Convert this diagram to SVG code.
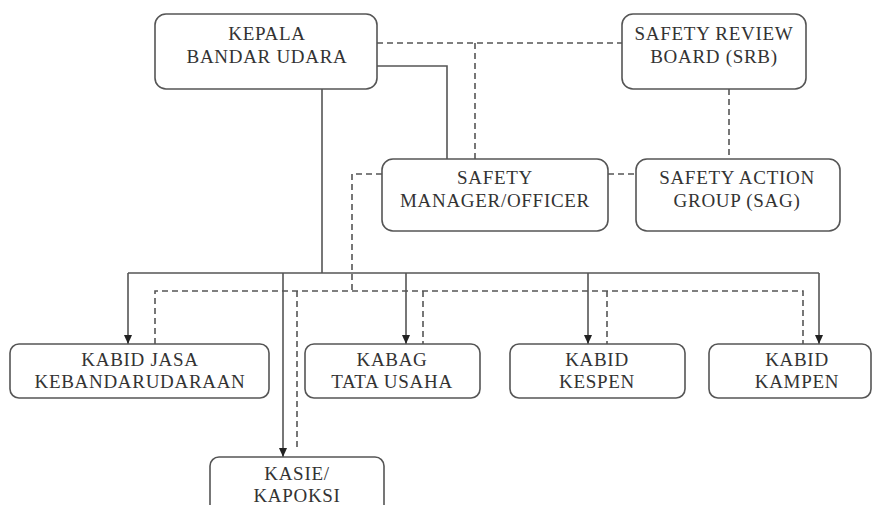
<svg xmlns="http://www.w3.org/2000/svg" width="877" height="505" viewBox="0 0 877 505">
<style>
.box{fill:#fff;stroke:#555;stroke-width:1.6}
.t{font-family:"Liberation Serif","Times New Roman",serif;font-size:19px;letter-spacing:0.7px;fill:#333;text-anchor:middle}
.s{fill:none;stroke:#555;stroke-width:1.6}
.d{fill:none;stroke:#555;stroke-width:1.6;stroke-dasharray:6,4}
</style>
<defs>
<marker id="ah" markerWidth="10" markerHeight="8" refX="9" refY="4" orient="auto" markerUnits="userSpaceOnUse">
<path d="M0,0 L9,4 L0,8 Z" fill="#222"/>
</marker>
</defs>
<g id="connectors">
<path class="s" d="M377,66 H447 V159"/>
<path class="d" d="M377,43 H622"/>
<path class="d" d="M475,43 V159"/>
<path class="d" d="M729,89 V159"/>
<path class="d" d="M608,174 H636"/>
<path class="s" d="M322,89 V273"/>
<path class="s" d="M128,273 H819"/>
<path class="s" d="M128,273 V344" marker-end="url(#ah)"/>
<path class="s" d="M406,273 V344" marker-end="url(#ah)"/>
<path class="s" d="M588,273 V344" marker-end="url(#ah)"/>
<path class="s" d="M819,273 V344" marker-end="url(#ah)"/>
<path class="s" d="M283,273 V457" marker-end="url(#ah)"/>
<path class="d" d="M382,174 H352 V291"/>
<path class="d" d="M155,344 V291 H803 V344"/>
<path class="d" d="M297,291 V450"/>
<path class="d" d="M423,291 V344"/>
<path class="d" d="M607,291 V344"/>
</g>
<g id="kepala">
<rect class="box" x="155" y="14" width="222" height="75" rx="11"/>
<text class="t" x="267" y="40">KEPALA</text>
<text class="t" x="267" y="63">BANDAR UDARA</text>
</g>
<g id="srb">
<rect class="box" x="622" y="14" width="184" height="75" rx="11"/>
<text class="t" x="714" y="40">SAFETY REVIEW</text>
<text class="t" x="714" y="63">BOARD (SRB)</text>
</g>
<g id="sm">
<rect class="box" x="382" y="159" width="226" height="72" rx="11"/>
<text class="t" x="495" y="184">SAFETY</text>
<text class="t" x="495" y="207">MANAGER/OFFICER</text>
</g>
<g id="sag">
<rect class="box" x="636" y="159" width="204" height="72" rx="11"/>
<text class="t" x="737" y="184">SAFETY ACTION</text>
<text class="t" x="737" y="207">GROUP (SAG)</text>
</g>
<g id="kabid-jasa">
<rect class="box" x="10" y="344" width="259" height="54" rx="9"/>
<text class="t" x="140" y="366">KABID JASA</text>
<text class="t" x="140" y="388">KEBANDARUDARAAN</text>
</g>
<g id="kabag">
<rect class="box" x="305" y="344" width="175" height="54" rx="9"/>
<text class="t" x="392" y="366">KABAG</text>
<text class="t" x="392" y="388">TATA USAHA</text>
</g>
<g id="kespen">
<rect class="box" x="510" y="344" width="175" height="54" rx="9"/>
<text class="t" x="597" y="366">KABID</text>
<text class="t" x="597" y="388">KESPEN</text>
</g>
<g id="kampen">
<rect class="box" x="709" y="344" width="162" height="54" rx="9"/>
<text class="t" x="797" y="366">KABID</text>
<text class="t" x="797" y="388">KAMPEN</text>
</g>
<g id="kasie">
<rect class="box" x="210" y="457" width="174" height="60" rx="9"/>
<text class="t" x="297" y="480">KASIE/</text>
<text class="t" x="297" y="502">KAPOKSI</text>
</g>
</svg>
